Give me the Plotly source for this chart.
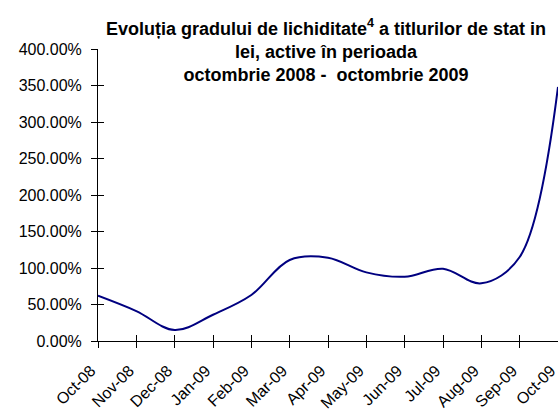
import plotly.graph_objects as go

months = ["Oct-08", "Nov-08", "Dec-08", "Jan-09", "Feb-09", "Mar-09", "Apr-09",
          "May-09", "Jun-09", "Jul-09", "Aug-09", "Sep-09", "Oct-09"]
liquidity_pct = [62, 41, 15, 36, 63, 111, 114, 94, 88, 99, 79, 115, 348]
y_ticks = [0, 0.5, 1.0, 1.5, 2.0, 2.5, 3.0, 3.5, 4.0]
title_text = ("<b>Evoluția gradului de lichiditate<sup>4</sup> a titlurilor de stat in<br>"
              "lei, active în perioada<br>octombrie 2008 - \u00a0octombrie 2009</b>")

values = [v / 100 for v in liquidity_pct]
FONT = "Arial, 'Liberation Sans', sans-serif"

fig = go.Figure()
fig.add_trace(go.Scatter(
    x=months, y=values, mode="lines",
    line=dict(color="#000080", width=2, shape="spline", smoothing=1),
    hoverinfo="skip", showlegend=False,
))
# invisible copy so the overlay axes (inner half of the cross ticks) know the categories
fig.add_trace(go.Scatter(
    x=months, y=values, mode="lines", xaxis="x2", yaxis="y2",
    line=dict(color="rgba(0,0,0,0)", width=0), hoverinfo="skip", showlegend=False,
))

axis_common = dict(showgrid=False, zeroline=False, linecolor="black", linewidth=1,
                   tickcolor="black", tickwidth=1, ticklen=6, automargin=False)

fig.update_layout(
    width=558, height=411, autosize=False,
    margin=dict(l=98, r=0, t=49, b=70),
    paper_bgcolor="white", plot_bgcolor="white",
    font=dict(family=FONT, color="black"),
    annotations=[dict(
        text=title_text, xref="paper", yref="paper",
        x=(326 - 98) / 460, y=(341 - 50) / 292, xanchor="center", yanchor="middle",
        showarrow=False, align="center",
        font=dict(family=FONT, size=18, color="black"),
    )],
    xaxis=dict(type="category", categoryorder="array", categoryarray=months,
               range=[0, 12], ticks="outside", tickangle=-45,
               ticklabelstandoff=7, ticklabelshift=-7,
               showline=True, tickfont=dict(size=16, family=FONT, color="black"),
               **axis_common),
    yaxis=dict(range=[0, 4], tickvals=y_ticks, tickformat=".2%", ticks="outside",
               ticklabelstandoff=6,
               showline=True, tickfont=dict(size=16, family=FONT, color="black"),
               **axis_common),
    xaxis2=dict(type="category", categoryorder="array", categoryarray=months,
                range=[0, 12], overlaying="x", ticks="inside", showticklabels=False,
                showline=False, **axis_common),
    yaxis2=dict(range=[0, 4], tickvals=y_ticks, overlaying="y", ticks="inside",
                showticklabels=False, showline=False, **axis_common),
)

fig.write_html("out.html", config={"displayModeBar": False},
               post_script="document.body.style.margin='0';")
